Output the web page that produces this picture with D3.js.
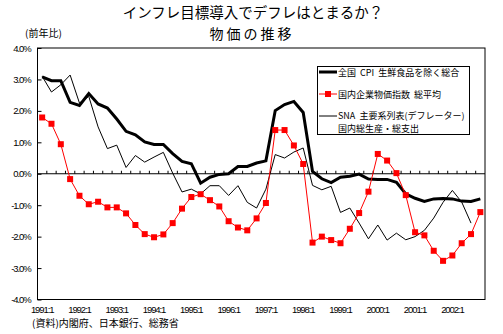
<!DOCTYPE html>
<html>
<head>
<meta charset="utf-8">
<script src="https://cdn.jsdelivr.net/npm/d3@7"></script>
<style>
  body { margin: 0; background: #fff; }
  text { font-family: "Noto Sans CJK JP", "Noto Sans", sans-serif; fill: #000; }
  .num { font-family: "Liberation Sans", Arial, sans-serif; font-size: 9.5px; letter-spacing: -1.1px; }
</style>
</head>
<body>
<svg id="chart" width="503" height="334"></svg>
<script>
// 四半期 1991:1 〜 2002:4
const years = d3.range(1991, 2003);
const quarters = [];
years.forEach(y => [1, 2, 3, 4].forEach(q => quarters.push(y + ':' + q)));

// 全国 CPI 生鮮食品を除く総合（前年比 %）
const cpi = [3.08, 2.96, 2.96, 2.27, 2.17, 2.55, 2.22, 2.09, 1.74, 1.35, 1.24, 1.01,
  0.93, 0.93, 0.64, 0.39, 0.32, -0.30, -0.11, -0.02, 0.00, 0.23, 0.23, 0.34,
  0.41, 2.01, 2.20, 2.30, 1.95, 0.07, -0.16, -0.28, -0.11, -0.08, -0.01, -0.17,
  -0.18, -0.18, -0.27, -0.64, -0.78, -0.88, -0.80, -0.79, -0.80, -0.87, -0.88, -0.80];

// 国内企業物価指数 総平均
const cgpi = [1.79, 1.59, 0.94, -0.17, -0.70, -0.97, -0.89, -1.07, -1.07, -1.26, -1.63, -1.92,
  -2.02, -1.93, -1.57, -1.11, -0.74, -0.65, -0.84, -1.04, -1.51, -1.71, -1.80, -1.42,
  -0.93, 1.39, 1.39, 0.90, 0.31, -2.19, -2.00, -2.11, -2.21, -1.75, -1.25, -0.57,
  0.63, 0.42, 0.02, -0.68, -1.86, -1.96, -2.45, -2.77, -2.60, -2.21, -1.92, -1.22];

// SNA 主要系列表（デフレーター）国内総生産・総支出 — 2002:4 は未発表
const gdpDef = [3.10, 2.60, 2.83, 3.14, 2.25, 2.46, 1.49, 0.80, 0.91, 0.20, 0.58, 0.37,
  0.53, 0.68, 0.02, -0.58, -0.49, -0.64, -0.38, -0.38, -0.69, -0.38, -0.91, -1.09,
  -0.49, 0.61, 0.50, 0.69, 0.82, -0.37, -0.51, -0.40, -1.23, -1.09, -1.57, -2.07,
  -1.63, -2.11, -1.89, -2.10, -2.00, -1.80, -1.41, -0.91, -0.53, -0.90, -1.57, null];

const yTicks = [-4, -3, -2, -1, 0, 1, 2, 3, 4];

const svg = d3.select('#chart');

const x = d3.scaleBand().domain(quarters).range([37.5, 485]).padding(0);
const y = d3.scaleLinear().domain([-4, 4]).range([299.5, 48]);
const cx = q => x(q) + x.bandwidth() / 2;

// タイトル
svg.append('text').attr('x', 253).attr('y', 18).attr('text-anchor', 'middle')
  .style('font-size', '14.5px').text('インフレ目標導入でデフレはとまるか？');
svg.append('text').attr('x', 252).attr('y', 39).attr('text-anchor', 'middle')
  .style('font-size', '14px').style('letter-spacing', '3px').text('物価の推移');
svg.append('text').attr('x', 25).attr('y', 37)
  .style('font-size', '10px').text('(前年比)');

// 枠
svg.append('rect')
  .attr('x', 37.5).attr('y', y(4))
  .attr('width', 485 - 37.5).attr('height', y(-4) - y(4))
  .attr('fill', 'none').attr('stroke', '#000');

// Y 軸
const yAxis = svg.append('g')
  .attr('transform', 'translate(37.5,0)')
  .call(d3.axisLeft(y).tickValues(yTicks).tickSize(-4).tickPadding(7)
    .tickFormat(d => d.toFixed(1) + '%'));
yAxis.select('.domain').remove();
yAxis.selectAll('text').attr('class', 'num').style('fill', '#000');

// ゼロ線と四半期目盛り
svg.append('line')
  .attr('x1', 37.5).attr('x2', 485).attr('y1', y(0)).attr('y2', y(0))
  .attr('stroke', '#000');
svg.append('g').selectAll('line')
  .data(quarters.slice(1))
  .enter()
  .append('line')
  .attr('x1', d => x(d)).attr('x2', d => x(d))
  .attr('y1', y(0)).attr('y2', y(0) - 3)
  .attr('stroke', '#000');

// X 軸ラベル（各年の第1四半期）
svg.append('g').selectAll('text')
  .data(quarters.filter(q => q.endsWith(':1')))
  .enter()
  .append('text')
  .attr('class', 'num')
  .attr('x', d => cx(d)).attr('y', 313)
  .attr('text-anchor', 'middle')
  .text(d => d);

svg.append('text').attr('x', 32).attr('y', 327)
  .style('font-size', '10px').text('(資料)内閣府、日本銀行、総務省');

// 系列
const line = d3.line()
  .defined(d => d.v !== null)
  .x(d => cx(d.q))
  .y(d => y(d.v));
const pts = arr => arr.map((v, i) => ({ q: quarters[i], v: v }));

svg.append('path').datum(pts(gdpDef))
  .attr('d', line).attr('fill', 'none').attr('stroke', '#000').attr('stroke-width', 1);

svg.append('path').datum(pts(cpi))
  .attr('d', line).attr('fill', 'none').attr('stroke', '#000').attr('stroke-width', 3);

svg.append('path').datum(pts(cgpi))
  .attr('d', line).attr('fill', 'none').attr('stroke', '#f00').attr('stroke-width', 1);

svg.append('g').selectAll('rect')
  .data(pts(cgpi))
  .enter()
  .append('rect')
  .attr('x', d => cx(d.q) - 3).attr('y', d => y(d.v) - 3)
  .attr('width', 6).attr('height', 6)
  .attr('fill', '#f00');

// 凡例
const lg = svg.append('g');
lg.append('rect').attr('x', 317.5).attr('y', 66.5).attr('width', 152).attr('height', 68)
  .attr('fill', '#fff').attr('stroke', '#000');
lg.append('line').attr('x1', 319).attr('x2', 337).attr('y1', 72).attr('y2', 72)
  .attr('stroke', '#000').attr('stroke-width', 3);
lg.append('line').attr('x1', 319).attr('x2', 337).attr('y1', 94).attr('y2', 94)
  .attr('stroke', '#f00');
lg.append('rect').attr('x', 325).attr('y', 91).attr('width', 6).attr('height', 6)
  .attr('fill', '#f00');
lg.append('line').attr('x1', 319).attr('x2', 337).attr('y1', 116).attr('y2', 116)
  .attr('stroke', '#000');

const legendText = [
  { t: ['全国  CPI  生鮮食品を除く総合'], y: 76 },
  { t: ['国内企業物価指数  総平均'], y: 98 },
  { t: ['SNA  主要系列表(デフレーター)', '国内総生産・総支出'], y: 118.5 }
];
lg.selectAll('text.lg')
  .data(legendText)
  .enter()
  .append('text')
  .attr('class', 'lg')
  .attr('y', d => d.y)
  .style('font-size', '9px').style('white-space', 'pre')
  .selectAll('tspan')
  .data(d => d.t)
  .enter()
  .append('tspan')
  .attr('x', 338)
  .attr('dy', (d, i) => i === 0 ? 0 : 13.3)
  .text(d => d);
</script>
</body>
</html>
